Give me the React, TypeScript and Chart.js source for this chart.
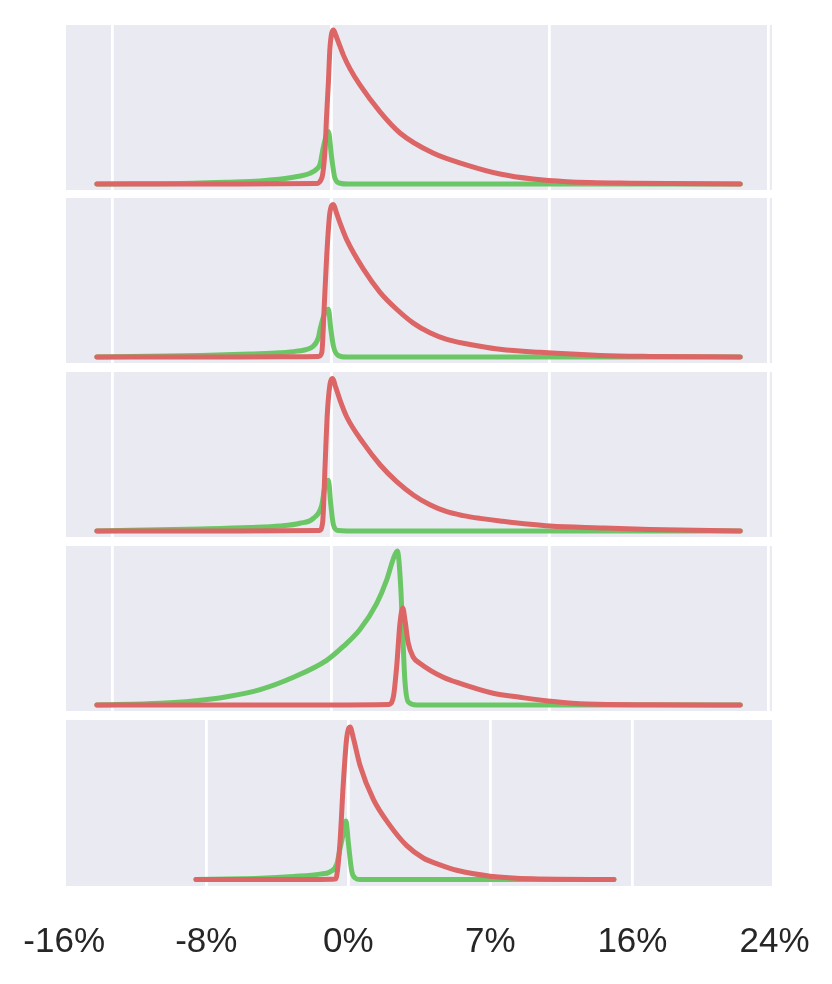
import React, { useEffect, useRef } from 'react';
import { Chart, registerables } from 'chart.js';

Chart.register(...registerables);

// ---------- data (x in %, y = density relative to panel max) ----------
// Panel 1
const p1RedX = [-10.7, -6.0, -2.3, -0.69, -0.42, -0.27, -0.2, -0.12, -0.05, 0.11, 0.22, 0.33, 0.56, 0.87, 1.32, 2.24, 3.15, 4.66, 6.21, 7.72, 9.23, 10.78, 13.8, 18.7];
const p1RedY = [0, 0, 0.001, 0.003, 0.04, 0.23, 0.45, 0.66, 0.88, 1.0, 0.965, 0.924, 0.838, 0.747, 0.643, 0.468, 0.331, 0.201, 0.123, 0.065, 0.032, 0.015, 0.005, 0];
const p1GreenX = [-10.7, -6.3, -4.8, -3.24, -1.72, -0.96, -0.65, -0.5, -0.35, -0.12, 0.03, 0.18, 0.41, 0.8, 18.7];
const p1GreenY = [0, 0.005, 0.011, 0.02, 0.044, 0.07, 0.097, 0.13, 0.24, 0.34, 0.17, 0.037, 0.005, 0, 0];

// Panel 2
const p2RedX = [-10.7, -6.0, -2.3, -0.58, -0.42, -0.31, -0.2, -0.05, 0.11, 0.25, 0.41, 0.72, 1.48, 2.24, 3.0, 3.76, 4.52, 5.29, 6.81, 7.72, 9.55, 12.29, 14.57, 18.7];
const p2RedY = [0, 0, 0.001, 0.003, 0.03, 0.33, 0.65, 0.94, 0.99, 0.935, 0.87, 0.76, 0.57, 0.42, 0.31, 0.22, 0.157, 0.114, 0.07, 0.05, 0.03, 0.01, 0.004, 0];
const p2GreenX = [-10.7, -5.98, -3.7, -2.33, -1.57, -0.81, -0.58, -0.5, -0.27, -0.12, -0.01, 0.11, 0.33, 0.72, 18.7];
const p2GreenY = [0, 0.01, 0.02, 0.027, 0.038, 0.07, 0.125, 0.18, 0.29, 0.31, 0.18, 0.07, 0.01, 0, 0];

// Panel 3
const p3RedX = [-10.7, -6.0, -2.3, -0.53, -0.38, -0.27, -0.17, -0.05, 0.06, 0.22, 0.41, 0.72, 1.48, 2.24, 3.0, 3.76, 4.52, 5.29, 6.04, 6.81, 7.72, 10.0, 12.29, 14.57, 18.7];
const p3RedY = [0, 0, 0.001, 0.003, 0.06, 0.43, 0.76, 0.95, 0.99, 0.93, 0.85, 0.74, 0.57, 0.43, 0.32, 0.234, 0.17, 0.125, 0.1, 0.082, 0.065, 0.032, 0.02, 0.01, 0];
const p3GreenX = [-10.7, -5.98, -3.7, -2.33, -1.42, -0.81, -0.42, -0.27, -0.12, -0.01, 0.11, 0.33, 0.72, 18.7];
const p3GreenY = [0, 0.013, 0.022, 0.032, 0.05, 0.082, 0.17, 0.3, 0.33, 0.17, 0.04, 0.003, 0, 0];

// Panel 4
const p4RedX = [-10.7, 0, 2.62, 2.85, 3.0, 3.15, 3.28, 3.38, 3.53, 3.76, 4.07, 5.13, 5.89, 7.41, 8.63, 10.16, 11.68, 14.57, 18.7];
const p4RedY = [0, 0, 0.003, 0.054, 0.25, 0.53, 0.63, 0.55, 0.4, 0.31, 0.27, 0.18, 0.14, 0.076, 0.05, 0.022, 0.006, 0.002, 0];
const p4GreenX = [-10.7, -7.81, -6.29, -4.76, -3.24, -1.72, -0.2, 0.56, 1.32, 2.09, 2.54, 2.85, 3.03, 3.18, 3.28, 3.38, 3.53, 3.92, 18.7];
const p4GreenY = [0, 0.011, 0.026, 0.054, 0.1, 0.18, 0.29, 0.38, 0.49, 0.66, 0.81, 0.95, 1.0, 0.78, 0.45, 0.15, 0.02, 0, 0];

// Panel 5
const p5RedX = [-8.58, -4.0, -1.59, -0.75, -0.65, -0.47, -0.28, -0.09, 0.1, 0.28, 0.66, 1.41, 2.35, 3.29, 4.22, 5.16, 6.1, 7.98, 10.4, 14.96];
const p5RedY = [0, 0, 0.001, 0.003, 0.026, 0.24, 0.63, 0.92, 0.99, 0.92, 0.74, 0.52, 0.35, 0.22, 0.14, 0.095, 0.06, 0.022, 0.005, 0];
const p5GreenX = [-8.58, -6.0, -4.97, -3.1, -1.59, -1.03, -0.65, -0.47, -0.28, -0.13, 0.0, 0.19, 0.38, 0.66, 14.96];
const p5GreenY = [0, 0.005, 0.008, 0.02, 0.035, 0.05, 0.1, 0.2, 0.3, 0.38, 0.24, 0.055, 0.01, 0, 0];

// Axes
const topGridValues = [-10, 0, 10, 20];
const bottomTickValues = [-16, -8, 0, 8, 16, 24];
const bottomTickLabels = ['-16%', '-8%', '0%', '7%', '16%', '24%'];

const RED = '#DC6565';
const GREEN = '#6BC766';
const PANEL_BG = '#EAEAF2';

const zip = (xs: number[], ys: number[]) => xs.map((x, i) => ({ x, y: ys[i] }));

const bgPlugin = {
  id: 'panelBg',
  beforeDraw(chart: any) {
    const { ctx, chartArea: a } = chart;
    ctx.save();
    ctx.fillStyle = PANEL_BG;
    ctx.fillRect(a.left, a.top, a.right - a.left, a.bottom - a.top);
    ctx.restore();
  },
};

type PanelProps = {
  redX: number[]; redY: number[]; greenX: number[]; greenY: number[];
  xMin: number; xMax: number; yMin: number; yMax: number;
  ticks: number[]; labels?: string[];
  left: number; top: number; width: number; height: number;
  padLeft: number; padRight: number; axisHeight: number;
};

function Panel(p: PanelProps) {
  const ref = useRef<HTMLCanvasElement | null>(null);
  useEffect(() => {
    if (!ref.current) return;
    const lineStyle = {
      borderWidth: 5,
      pointRadius: 0,
      cubicInterpolationMode: 'monotone' as const,
      borderCapStyle: 'round' as const,
      borderJoinStyle: 'round' as const,
      fill: false,
    };
    const chart = new Chart(ref.current, {
      type: 'line',
      data: {
        datasets: [
          { ...lineStyle, data: zip(p.redX, p.redY), borderColor: RED },
          { ...lineStyle, data: zip(p.greenX, p.greenY), borderColor: GREEN },
        ],
      },
      options: {
        animation: false,
        responsive: false,
        devicePixelRatio: 1,
        events: [],
        layout: { autoPadding: false, padding: { left: p.padLeft, right: p.padRight, top: 0, bottom: 0 } },
        plugins: { legend: { display: false }, tooltip: { enabled: false } },
        scales: {
          x: {
            type: 'linear',
            min: p.xMin,
            max: p.xMax,
            afterBuildTicks: (s: any) => {
              s.ticks = p.ticks.map((v) => ({ value: v }));
            },
            afterFit: (s: any) => {
              s.height = p.axisHeight;
              s.paddingLeft = 0;
              s.paddingRight = 0;
            },
            grid: {
              color: (c: any) =>
                c.tick && (c.tick.value < p.xMin || c.tick.value > p.xMax) ? 'rgba(0,0,0,0)' : '#FFFFFF',
              lineWidth: 2.8,
              drawTicks: false,
            },
            border: { display: false },
            ticks: {
              display: !!p.labels,
              autoSkip: false,
              maxRotation: 0,
              minRotation: 0,
              padding: 35,
              color: '#262626',
              font: { family: "'Liberation Sans', Arial, sans-serif", size: 35 },
              callback: (_v: any, i: number) => (p.labels ? p.labels[i] : ''),
            },
          },
          y: { display: false, min: p.yMin, max: p.yMax },
        },
      },
      plugins: [bgPlugin],
    } as any);
    return () => chart.destroy();
  }, []);
  return (
    <canvas
      ref={ref}
      width={p.width}
      height={p.height}
      style={{ position: 'absolute', left: p.left, top: p.top, width: p.width, height: p.height }}
    />
  );
}

export default function App() {
  const topCommon = {
    xMin: -12.11, xMax: 20.15, yMin: -0.039, yMax: 1.032,
    ticks: topGridValues, left: 66, width: 706, height: 165,
    padLeft: 0, padRight: 0, axisHeight: 0,
  };
  return (
    <div style={{ position: 'absolute', left: 0, top: 0, width: 832, height: 984, background: '#FFFFFF' }}>
      <Panel {...topCommon} top={25} redX={p1RedX} redY={p1RedY} greenX={p1GreenX} greenY={p1GreenY} />
      <Panel {...topCommon} top={198} redX={p2RedX} redY={p2RedY} greenX={p2GreenX} greenY={p2GreenY} />
      <Panel {...topCommon} top={372} redX={p3RedX} redY={p3RedY} greenX={p3GreenX} greenY={p3GreenY} />
      <Panel {...topCommon} top={546} redX={p4RedX} redY={p4RedY} greenX={p4GreenX} greenY={p4GreenY} />
      <Panel
        xMin={-15.9} xMax={23.86} yMin={-0.042} yMax={1.036}
        ticks={bottomTickValues} labels={bottomTickLabels}
        left={0} top={720} width={832} height={264}
        padLeft={66} padRight={60} axisHeight={98}
        redX={p5RedX} redY={p5RedY} greenX={p5GreenX} greenY={p5GreenY}
      />
    </div>
  );
}
